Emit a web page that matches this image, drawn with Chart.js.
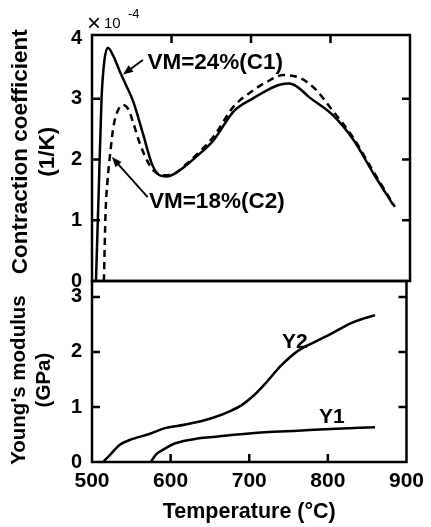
<!DOCTYPE html>
<html>
<head>
<meta charset="utf-8">
<script src="https://cdn.jsdelivr.net/npm/chart.js@4"></script>
<style>
  html, body { margin: 0; padding: 0; background: #fff; }
  #wrap { position: relative; width: 431px; height: 527px; }
  canvas { position: absolute; left: 0; top: 0; }
</style>
</head>
<body>
<div id="wrap">
  <canvas id="upper" width="431" height="527"></canvas>
  <canvas id="lower" width="431" height="527"></canvas>
</div>
<script>
// contraction coefficient, x1e-4 1/K
const c1Temp = [505, 508.5, 512, 515.5, 520, 527, 535, 543, 552, 564, 575, 583, 594, 603, 619, 636, 653, 678, 703, 720, 736, 748, 760, 772, 803, 829, 854, 879];
const c1Coef = [0, 1.5, 3.0, 3.62, 3.84, 3.70, 3.45, 3.22, 2.95, 2.43, 1.94, 1.76, 1.72, 1.76, 1.91, 2.10, 2.32, 2.79, 3.01, 3.14, 3.23, 3.25, 3.18, 3.04, 2.73, 2.32, 1.77, 1.25];
const c2Temp = [515, 517, 519.5, 522.5, 527, 532, 539, 546, 552, 560, 571, 579, 590, 602, 619, 653, 678, 703, 720, 741, 762, 780, 803, 829, 854, 881];
const c2Coef = [0, 1.1, 1.65, 2.05, 2.54, 2.79, 2.90, 2.82, 2.60, 2.27, 1.94, 1.80, 1.74, 1.76, 1.93, 2.38, 2.87, 3.14, 3.28, 3.39, 3.34, 3.17, 2.80, 2.35, 1.80, 1.22];

// young's modulus, GPa
const y1Temp = [575, 581, 590, 606, 636, 657, 677, 720, 762, 803, 860];
const y1Mod = [0, 0.13, 0.22, 0.34, 0.43, 0.46, 0.49, 0.54, 0.57, 0.60, 0.63];
const y2Temp = [514, 523, 535, 548, 573, 594, 619, 653, 678, 690, 705, 720, 741, 762, 783, 804, 829, 846, 860];
const y2Mod = [0, 0.13, 0.31, 0.40, 0.51, 0.62, 0.68, 0.80, 0.94, 1.03, 1.20, 1.42, 1.76, 2.02, 2.18, 2.33, 2.52, 2.61, 2.67];

const tempTicks = [500, 600, 700, 800, 900];
const coefTicks = [0, 1, 2, 3, 4];
const modTicks = [0, 1, 2, 3];

const FONT = "'Liberation Sans', Arial, sans-serif";

function pairs(xs, ys) {
    return xs.map((x, i) => ({ x: x, y: ys[i] }));
}

// box around the plot + inward tick marks
const framePlugin = {
    id: 'frame',
    afterDatasetsDraw(chart, args, opts) {
        const { ctx, chartArea: a, scales } = chart;
        const len = 8;
        ctx.save();
        ctx.strokeStyle = '#000';
        ctx.lineWidth = 2.5;
        ctx.strokeRect(a.left, a.top, a.right - a.left, a.bottom - a.top);
        ctx.beginPath();
        opts.yTicks.forEach((v) => {
            const y = scales.y.getPixelForValue(v);
            ctx.moveTo(a.left, y); ctx.lineTo(a.left + len, y);
            ctx.moveTo(a.right, y); ctx.lineTo(a.right - len, y);
        });
        opts.xTicks.forEach((v) => {
            const x = scales.x.getPixelForValue(v);
            const edge = opts.xEdge === 'top' ? a.top : a.bottom;
            const dir = opts.xEdge === 'top' ? 1 : -1;
            ctx.moveTo(x, edge); ctx.lineTo(x, edge + dir * len);
        });
        ctx.stroke();
        ctx.restore();
    }
};

// curve labels and arrows, placed in data units
const notesPlugin = {
    id: 'notes',
    afterDatasetsDraw(chart, args, opts) {
        const { ctx, scales } = chart;
        const px = (p) => [scales.x.getPixelForValue(p[0]), scales.y.getPixelForValue(p[1])];
        ctx.save();
        ctx.fillStyle = '#000';
        ctx.strokeStyle = '#000';
        ctx.textAlign = 'center';
        ctx.textBaseline = 'middle';
        (opts.labels || []).forEach((l) => {
            ctx.font = 'bold ' + l.size + 'px ' + FONT;
            const p = px(l.at);
            ctx.fillText(l.text, p[0], p[1]);
        });
        (opts.arrows || []).forEach((ar) => {
            const f = px(ar.from), t = px(ar.to);
            const ang = Math.atan2(t[1] - f[1], t[0] - f[0]);
            ctx.lineWidth = 1.8;
            ctx.beginPath();
            ctx.moveTo(f[0], f[1]);
            ctx.lineTo(t[0] - 6 * Math.cos(ang), t[1] - 6 * Math.sin(ang));
            ctx.stroke();
            ctx.beginPath();
            ctx.moveTo(t[0], t[1]);
            ctx.lineTo(t[0] - 10 * Math.cos(ang) + 4 * Math.sin(ang), t[1] - 10 * Math.sin(ang) - 4 * Math.cos(ang));
            ctx.lineTo(t[0] - 10 * Math.cos(ang) - 4 * Math.sin(ang), t[1] - 10 * Math.sin(ang) + 4 * Math.cos(ang));
            ctx.closePath();
            ctx.fill();
        });
        if (opts.exponent) {
            const a = chart.chartArea;
            ctx.textAlign = 'left';
            ctx.font = '24px ' + FONT;
            ctx.fillText('\u00d7', a.left - 5, a.top - 11);
            ctx.font = '15px ' + FONT;
            ctx.fillText('10', a.left + 12, a.top - 11);
            ctx.font = '13px ' + FONT;
            ctx.fillText('-4', a.left + 36, a.top - 21);
        }
        ctx.restore();
    }
};

function lineSet(xs, ys, dash) {
    return {
        data: pairs(xs, ys),
        borderColor: '#000',
        borderWidth: 2.5,
        borderDash: dash || [],
        pointRadius: 0,
        fill: false,
        cubicInterpolationMode: 'monotone',
    };
}

function yScale(max, ticks, title, titleSize) {
    return {
        min: 0,
        max: max,
        afterBuildTicks: (s) => { s.ticks = ticks.map((v) => ({ value: v })); },
        afterFit: (s) => { s.width = 92; },
        grid: { display: false, drawTicks: false },
        border: { display: false },
        ticks: { padding: 10, color: '#000', font: { family: FONT, size: 20, weight: 'bold' } },
        title: {
            display: true,
            text: title,
            color: '#000',
            padding: { top: 7, bottom: 0 },
            font: { family: FONT, size: titleSize, weight: 'bold', lineHeight: 1.22 },
        },
    };
}

new Chart(document.getElementById('upper'), {
    type: 'line',
    data: {
        datasets: [lineSet(c1Temp, c1Coef), lineSet(c2Temp, c2Coef, [7, 5])],
    },
    options: {
        responsive: false,
        animation: false,
        devicePixelRatio: 1,
        layout: { padding: { left: 0, right: 21, top: 35, bottom: 246 } },
        plugins: {
            legend: { display: false },
            tooltip: { enabled: false },
            frame: { yTicks: [1, 2, 3], xTicks: [600, 700, 800], xEdge: 'top' },
            notes: {
                exponent: true,
                labels: [
                    { text: 'VM=24%(C1)', at: [655, 3.59], size: 22.5 },
                    { text: 'VM=18%(C2)', at: [657, 1.30], size: 22.5 },
                ],
                arrows: [
                    { from: [564, 3.64], to: [539, 3.40] },
                    { from: [570, 1.38], to: [525, 2.04] },
                ],
            },
        },
        scales: {
            x: { type: 'linear', min: 500, max: 900, display: false },
            y: yScale(4.05, coefTicks, ['  Contraction coefficient', '  (1/K)'], 22.5),
        },
    },
    plugins: [framePlugin, notesPlugin],
});

new Chart(document.getElementById('lower'), {
    type: 'line',
    data: {
        datasets: [lineSet(y1Temp, y1Mod), lineSet(y2Temp, y2Mod)],
    },
    options: {
        responsive: false,
        animation: false,
        devicePixelRatio: 1,
        layout: { padding: { left: 0, right: 21, top: 281, bottom: 0 } },
        plugins: {
            legend: { display: false },
            tooltip: { enabled: false },
            frame: { yTicks: [1, 2, 3], xTicks: [600, 700, 800], xEdge: 'bottom' },
            notes: {
                labels: [
                    { text: 'Y2', at: [758, 2.17], size: 21 },
                    { text: 'Y1', at: [805, 0.82], size: 21 },
                ],
            },
        },
        scales: {
            x: {
                type: 'linear',
                min: 500,
                max: 900,
                afterBuildTicks: (s) => { s.ticks = tempTicks.map((v) => ({ value: v })); },
                afterFit: (s) => { s.height = 65; },
                grid: { display: false, drawTicks: false },
                border: { display: false },
                ticks: { padding: 7, color: '#000', font: { family: FONT, size: 21, weight: 'bold' } },
                title: {
                    display: true,
                    text: 'Temperature (\u00b0C)',
                    color: '#000',
                    padding: { top: 0, bottom: 2 },
                    font: { family: FONT, size: 21.5, weight: 'bold', lineHeight: 1.2 },
                },
            },
            y: yScale(3.29, modTicks, ["Young's modulus   ", '(GPa)   '], 20.5),
        },
    },
    plugins: [framePlugin, notesPlugin],
});
</script>
</body>
</html>
